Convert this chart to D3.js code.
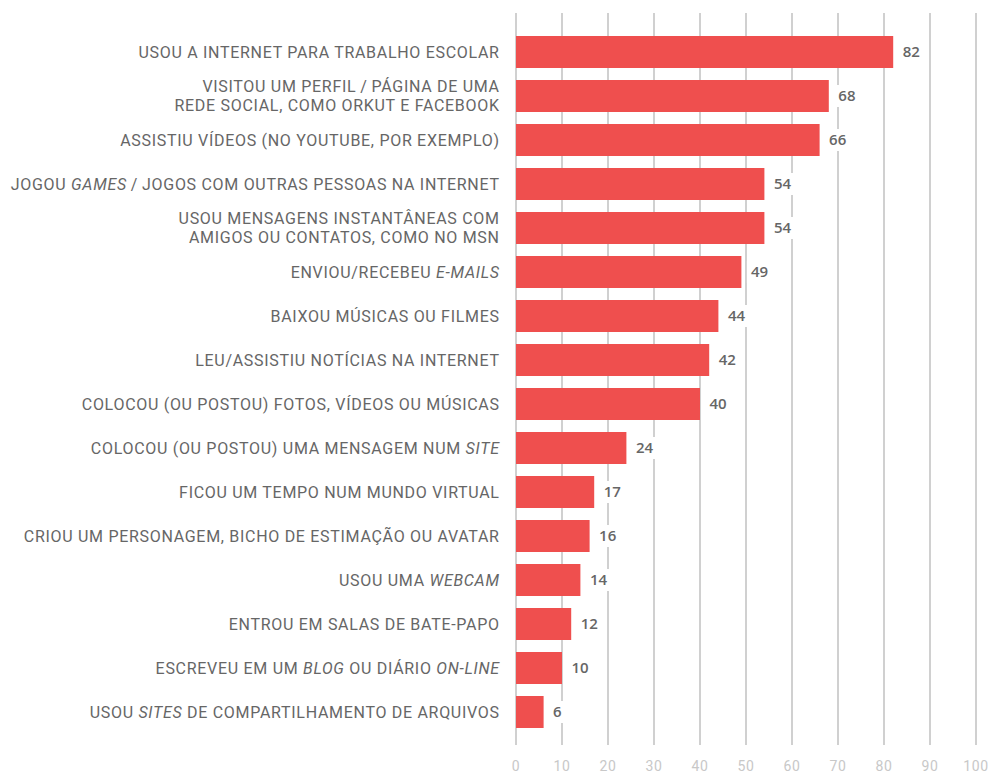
<!DOCTYPE html>
<html>
<head>
<meta charset="utf-8">
<script src="https://cdn.jsdelivr.net/npm/d3@7"></script>
<style>
  html, body { margin: 0; padding: 0; background: #fff; }
  svg { display: block; }
</style>
</head>
<body>
<svg id="chart" width="992" height="773"></svg>
<script>
// Activity labels; "|" splits lines, *text* marks italic words
const categories = [
  "USOU A INTERNET PARA TRABALHO ESCOLAR",
  "VISITOU UM PERFIL\u2009/\u2009PÁGINA DE UMA|REDE SOCIAL, COMO ORKUT E FACEBOOK",
  "ASSISTIU VÍDEOS (NO YOUTUBE, POR EXEMPLO)",
  "JOGOU *GAMES*\u2009/\u2009JOGOS COM OUTRAS PESSOAS NA INTERNET",
  "USOU MENSAGENS INSTANTÂNEAS COM|AMIGOS OU CONTATOS, COMO NO MSN",
  "ENVIOU/RECEBEU *E-MAILS*",
  "BAIXOU MÚSICAS OU FILMES",
  "LEU/ASSISTIU NOTÍCIAS NA INTERNET",
  "COLOCOU (OU POSTOU) FOTOS, VÍDEOS OU MÚSICAS",
  "COLOCOU (OU POSTOU) UMA MENSAGEM NUM *SITE*",
  "FICOU UM TEMPO NUM MUNDO VIRTUAL",
  "CRIOU UM PERSONAGEM, BICHO DE ESTIMAÇÃO OU AVATAR",
  "USOU UMA *WEBCAM*",
  "ENTROU EM SALAS DE BATE-PAPO",
  "ESCREVEU EM UM *BLOG* OU DIÁRIO *ON-LINE*",
  "USOU *SITES* DE COMPARTILHAMENTO DE ARQUIVOS"
];
const values = [82, 68, 66, 54, 54, 49, 44, 42, 40, 24, 17, 16, 14, 12, 10, 6];
const tickValues = [0, 10, 20, 30, 40, 50, 60, 70, 80, 90, 100];

const svg = d3.select("#chart");
const plotLeft = 516, plotRight = 976, plotTop = 30;

const x = d3.scaleLinear().domain([0, 100]).range([plotLeft, plotRight]);
const y = d3.scaleBand().domain(d3.range(categories.length))
  .range([plotTop, plotTop + 44 * categories.length]).paddingInner(12 / 44).paddingOuter(6 / 44);

// vertical gridlines
svg.append("g").selectAll("line").data(tickValues).join("line")
  .attr("x1", d => x(d)).attr("x2", d => x(d))
  .attr("y1", 13).attr("y2", 745)
  .attr("stroke", "#d0d0d0").attr("stroke-width", 2);

// x axis tick labels
svg.append("g").selectAll("text").data(tickValues).join("text")
  .attr("x", d => x(d)).attr("y", 770.5)
  .attr("text-anchor", "middle")
  .attr("font-family", "Roboto, 'Liberation Sans', sans-serif")
  .attr("font-size", 14).attr("letter-spacing", 0.6).attr("fill", "#c8c8c8")
  .text(d => d);

// bars
svg.append("g").selectAll("rect").data(values).join("rect")
  .attr("x", x(0)).attr("y", (d, i) => y(i))
  .attr("width", d => x(d) - x(0)).attr("height", y.bandwidth())
  .attr("fill", "#ef4f4e");

// value labels with white backing that cuts the gridlines
const vg = svg.append("g").selectAll("g").data(values).join("g")
  .attr("transform", (d, i) => `translate(${x(d) + 9.5},${y(i) + y.bandwidth() / 2})`);
vg.append("rect")
  .attr("x", -4).attr("y", -11).attr("width", d => String(d).length * 9 + 8).attr("height", 22)
  .attr("fill", "#fff");
vg.append("text")
  .attr("dy", "0.36em")
  .attr("font-family", "'Open Sans', sans-serif").attr("font-weight", 600)
  .attr("font-size", 15).attr("fill", "#666")
  .text(d => d);

// category labels
const lg = svg.append("g")
  .attr("font-family", "Roboto, 'Liberation Sans', sans-serif")
  .attr("font-size", 16).attr("letter-spacing", 0.7).attr("fill", "#666").attr("text-anchor", "end");
categories.forEach((label, i) => {
  const lines = label.split("|");
  const cy = y(i) + y.bandwidth() / 2;
  lines.forEach((line, j) => {
    const t = lg.append("text")
      .attr("x", 499.7)
      .attr("y", cy + (j - (lines.length - 1) / 2) * 19)
      .attr("dy", "0.36em");
    line.split("*").forEach((part, k) => {
      if (!part) return;
      t.append("tspan").attr("font-style", k % 2 ? "italic" : "normal").text(part);
    });
  });
});
</script>
</body>
</html>
